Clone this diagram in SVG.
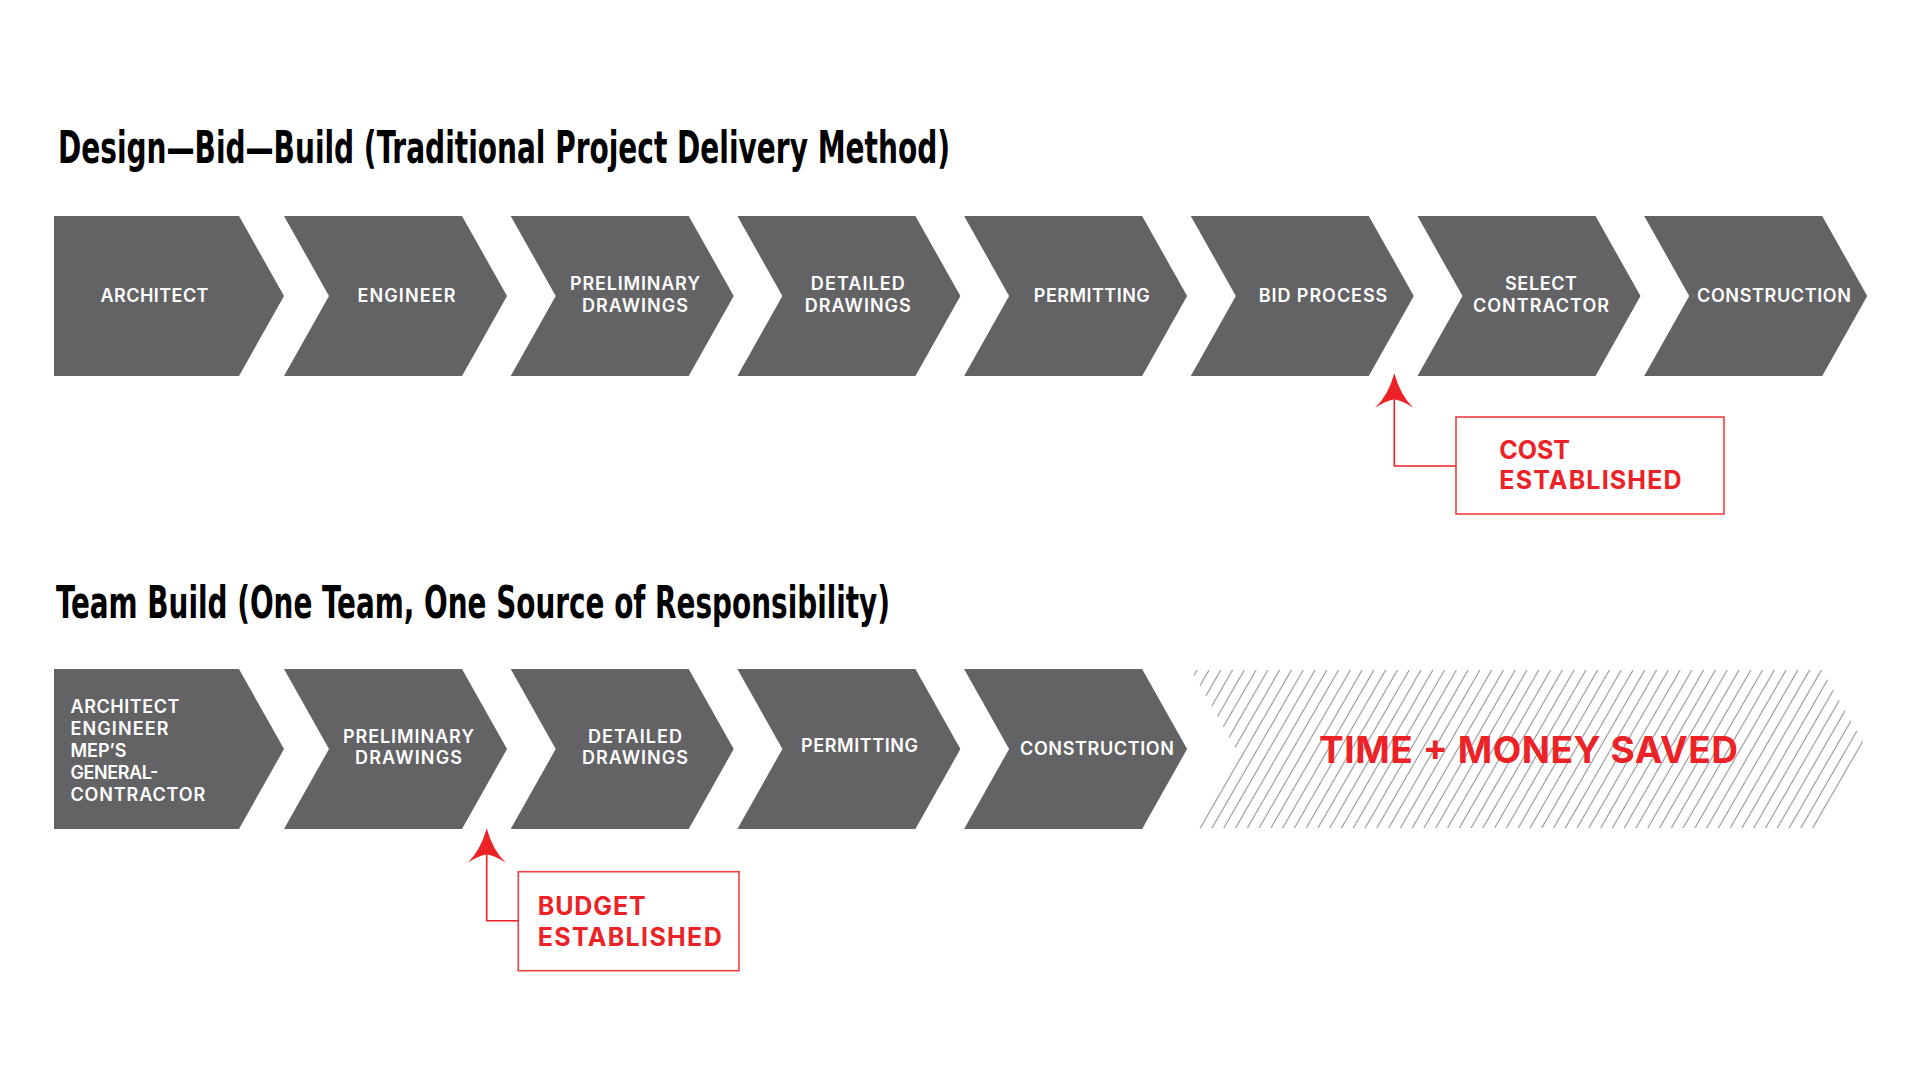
<svg xmlns="http://www.w3.org/2000/svg" width="1920" height="1080" viewBox="0 0 1920 1080">
  <style>
    .chev { fill: #636365; }
    .title { font-family: "Liberation Sans Narrow", "DejaVu Sans Condensed", "Roboto Condensed", "Liberation Sans", sans-serif; font-stretch: condensed; font-weight: 700; font-size: 44px; fill: #000; }
    .lbl { font-family: Inter, "Open Sans", "Liberation Sans", sans-serif; font-weight: 600; font-size: 18px; fill: #ffffff; }
    .mid { text-anchor: middle; }
    .red { font-family: Inter, "Open Sans", "Liberation Sans", sans-serif; font-weight: 700; font-size: 25px; fill: #ed2226; }
    .big { font-family: Inter, "Open Sans", "Liberation Sans", sans-serif; font-weight: 700; font-size: 37px; fill: #ed2226; }
    .box { fill: #ffffff; stroke: #ef4040; stroke-width: 1.6; }
    .lead { fill: none; stroke: #ed2226; stroke-width: 1.6; }
    .head { fill: #ed2226; }
  </style>
  <defs>
    <path id="chev" d="M0,0 H178 L223,80 L178,160 H0 L45,80 Z"/>
    <path id="first" d="M0,0 H185 L230,80 L185,160 H0 Z"/>
    <path id="arrowhead" d="M0,0 Q6,22 19,34.4 Q9,28 0,26 Q-9,28 -19,34.4 Q-6,22 0,0 Z"/>
    <pattern id="hatch" patternUnits="userSpaceOnUse" width="10.2" height="20" patternTransform="rotate(30)">
      <line x1="5" y1="-2" x2="5" y2="22" stroke="#8a8a8a" stroke-width="1"/>
    </pattern>
    <clipPath id="hatchClip">
      <path d="M1191,670 H1822 L1867,749 L1822,828 H1191 L1236,749 Z"/>
    </clipPath>
  </defs>
  <rect width="1920" height="1080" fill="#ffffff"/>

  <text id="title1" class="title" x="58" y="163" textLength="892" lengthAdjust="spacingAndGlyphs">Design—Bid—Build (Traditional Project Delivery Method)</text>
  <text id="title2" class="title" x="56" y="618" textLength="834" lengthAdjust="spacingAndGlyphs">Team Build (One Team, One Source of Responsibility)</text>

  <!-- Row 1 -->
  <g id="r1-architect"><use href="#first" class="chev" x="54" y="216"/>
    <text class="lbl mid" x="154.5" y="302.3" textLength="108">ARCHITECT</text></g>
  <g id="r1-engineer"><use href="#chev" class="chev" x="284" y="216"/>
    <text class="lbl mid" x="406.5" y="302.3" textLength="98">ENGINEER</text></g>
  <g id="r1-prelim"><use href="#chev" class="chev" x="510.7" y="216"/>
    <text class="lbl mid" x="635" y="290" textLength="130">PRELIMINARY</text>
    <text class="lbl mid" x="635" y="311.5" textLength="106">DRAWINGS</text></g>
  <g id="r1-detailed"><use href="#chev" class="chev" x="737.4" y="216"/>
    <text class="lbl mid" x="857.8" y="290" textLength="94">DETAILED</text>
    <text class="lbl mid" x="857.8" y="311.5" textLength="106">DRAWINGS</text></g>
  <g id="r1-permitting"><use href="#chev" class="chev" x="964.1" y="216"/>
    <text class="lbl mid" x="1091.8" y="302.3" textLength="116">PERMITTING</text></g>
  <g id="r1-bid"><use href="#chev" class="chev" x="1190.8" y="216"/>
    <text class="lbl mid" x="1323" y="302.3" textLength="128.6">BID PROCESS</text></g>
  <g id="r1-select"><use href="#chev" class="chev" x="1417.5" y="216"/>
    <text class="lbl mid" x="1541" y="290" textLength="72">SELECT</text>
    <text class="lbl mid" x="1541" y="311.5" textLength="136">CONTRACTOR</text></g>
  <g id="r1-construction"><use href="#chev" class="chev" x="1644.2" y="216"/>
    <text class="lbl mid" x="1774" y="302.3" textLength="154">CONSTRUCTION</text></g>

  <g id="cost-box">
    <rect class="box" x="1456" y="417" width="268" height="97"/>
    <text class="red" x="1499.3" y="459.3" textLength="70.7">COST</text>
    <text class="red" x="1499.3" y="489.3" textLength="182.3">ESTABLISHED</text>
  </g>

  <!-- Row 2 -->
  <g id="r2-team"><use href="#first" class="chev" x="54" y="669"/>
    <text class="lbl" x="70.5" y="712.5" textLength="109">ARCHITECT</text>
    <text class="lbl" x="70.5" y="734.5" textLength="98">ENGINEER</text>
    <text class="lbl" x="70.5" y="756.5" textLength="56">MEP’S</text>
    <text class="lbl" x="70.5" y="778.5" textLength="88">GENERAL-</text>
    <text class="lbl" x="70.5" y="800.5" textLength="134.7">CONTRACTOR</text></g>
  <g id="r2-prelim"><use href="#chev" class="chev" x="284" y="669"/>
    <text class="lbl mid" x="408.5" y="742.7" textLength="131">PRELIMINARY</text>
    <text class="lbl mid" x="408.5" y="764.3" textLength="107">DRAWINGS</text></g>
  <g id="r2-detailed"><use href="#chev" class="chev" x="510.7" y="669"/>
    <text class="lbl mid" x="635" y="742.7" textLength="94">DETAILED</text>
    <text class="lbl mid" x="635" y="764.3" textLength="106">DRAWINGS</text></g>
  <g id="r2-permitting"><use href="#chev" class="chev" x="737.4" y="669"/>
    <text class="lbl mid" x="859.6" y="752" textLength="117">PERMITTING</text></g>
  <g id="r2-construction"><use href="#chev" class="chev" x="964.1" y="669"/>
    <text class="lbl mid" x="1097" y="755" textLength="154">CONSTRUCTION</text></g>

  <g id="saved">
    <rect x="1180" y="660" width="700" height="180" fill="url(#hatch)" clip-path="url(#hatchClip)"/>
    <text class="big" x="1319" y="763.3" textLength="419">TIME + MONEY SAVED</text>
  </g>

  <g id="budget-box">
    <rect class="box" x="518.3" y="871.7" width="220.7" height="99"/>
    <text class="red" x="537.7" y="915" textLength="108">BUDGET</text>
    <text class="red" x="537.7" y="946" textLength="184">ESTABLISHED</text>
  </g>

  <!-- Connectors -->
  <g id="connectors">
    <g id="arrow-cost">
      <path class="lead" d="M1394.3,398 V466 H1456"/>
      <use href="#arrowhead" class="head" x="1394.3" y="373.3"/>
    </g>
    <g id="arrow-budget">
      <path class="lead" d="M486.7,853 V920.7 H518.3"/>
      <use href="#arrowhead" class="head" x="486.7" y="828.3"/>
    </g>
  </g>
</svg>
